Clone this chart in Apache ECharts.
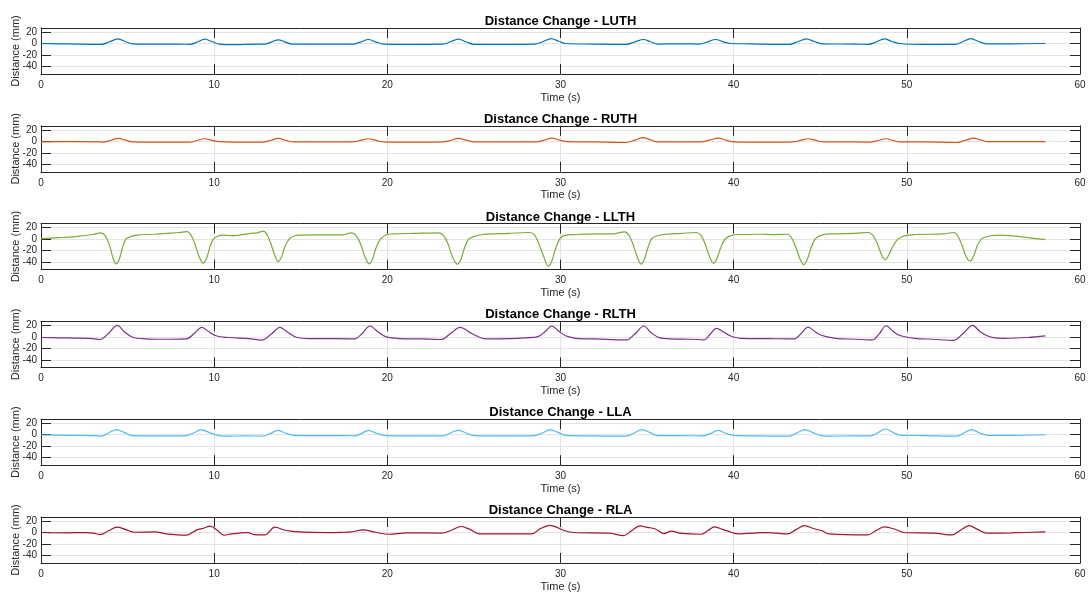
<!DOCTYPE html>
<html><head><meta charset="utf-8">
<script src="https://cdn.jsdelivr.net/npm/echarts@6/dist/echarts.min.js"></script>
<style>html,body{margin:0;padding:0;background:#fff}#c{width:1088px;height:592px}</style>
</head><body><div id="c"></div>
<script>
// ---- data ----
const names = ['LUTH','RUTH','LLTH','RLTH','LLA','RLA'];
const colors = ['#0072BD','#D95319','#77AC30','#7E2F8E','#4DBEEE','#A2142F'];
const timeTicks = [0,10,20,30,40,50,60];
const yTicks = [20,0,-20,-40];

const LUTH = [[0,0],[1,-0.5],[2,-1],[3,-1.5],[3.5,-1.5],[3.95,3],[4.45,8],[4.9,3],[5.3,-0.5],[6.5,-1],[8,-1],[8.6,-1.5],[9.05,3],[9.45,7.5],[9.9,3],[10.3,-1],[11,-2],[12.5,-1],[12.9,-1],[13.3,2.5],[13.7,6.5],[14.1,2.5],[14.5,-1],[16,-1],[18,-1],[18.45,2.5],[18.9,7],[19.35,2.5],[19.8,-1],[21,-1.5],[23.2,-1],[23.65,3],[24.1,7.5],[24.55,3],[25,-1.5],[27,-1.5],[28.5,-1],[29,3.5],[29.45,8.5],[29.9,4],[30.3,0],[32,-1],[33.8,-1.5],[34.3,3],[34.8,7],[35.2,3],[35.6,-1],[37,-0.5],[38,-1],[38.5,3],[38.95,7],[39.4,3],[39.8,0],[41,-0.5],[43.2,-1.5],[43.7,3],[44.2,8],[44.65,3.5],[45.1,-0.5],[47,-1],[47.8,-1.5],[48.25,3],[48.7,8],[49.15,3.5],[49.6,0],[51,-1.5],[52.8,-1.5],[53.25,3.5],[53.7,8.5],[54.15,3.5],[54.6,-0.5],[56,-0.5],[58,0]];

const RUTH = [[0,-1],[2,-0.5],[3.4,-1],[3.6,-1.5],[4.0,1.5],[4.45,5],[4.9,2],[5.3,-1],[7,-1.5],[8.6,-1.5],[9.0,1.5],[9.45,4.5],[9.9,1.5],[10.3,-0.5],[12,-1.5],[12.8,-1.5],[13.25,1.5],[13.7,5],[14.15,1.5],[14.6,-1],[16,-1],[18,-1],[18.45,1.5],[18.9,4.5],[19.35,1.5],[19.8,-1],[21,-1.5],[23.2,-1],[23.65,1.5],[24.1,5],[24.55,2],[25,-1],[27,-1],[28.6,-1],[29.05,2],[29.5,5.5],[29.95,2],[30.4,-0.5],[32,-1],[33.8,-2],[34.3,2],[34.75,6.5],[35.2,2.5],[35.6,-1],[37,-1],[38.1,-1],[38.6,2],[39.1,5.5],[39.55,2],[40,-1],[42,-1.5],[43.4,-1],[43.85,1.5],[44.3,4.5],[44.75,1.5],[45.2,-1],[47,-1],[47.9,-1.5],[48.35,1.5],[48.8,4.5],[49.2,1.5],[49.6,-1],[51,-1],[52.9,-2],[53.4,2],[53.85,5.5],[54.3,2],[54.7,-0.5],[56,-0.5],[58,-0.5]];

const LLTH = [[0,1],[1,2.5],[2,4.5],[3,8],[3.45,11],[3.7,6],[3.95,-10],[4.15,-32],[4.33,-43],[4.52,-35],[4.7,-15],[4.9,0],[5.15,4],[5.5,7],[6.5,8.5],[7.3,10],[8,11.5],[8.4,13],[8.6,10],[8.85,-5],[9.1,-28],[9.37,-42],[9.57,-33],[9.75,-14],[9.95,0],[10.2,5],[10.45,7],[11.1,6],[12.1,10],[12.5,11],[12.85,14],[13.05,8],[13.25,-6],[13.5,-28],[13.7,-39],[13.9,-30],[14.1,-12],[14.35,1],[14.6,5],[14.95,7],[15.9,7.5],[17.4,7.5],[17.95,11],[18.2,6],[18.45,-8],[18.7,-30],[18.95,-43],[19.15,-34],[19.35,-15],[19.6,0],[19.95,7.5],[20.35,9],[21.5,10],[23.0,11],[23.25,6],[23.5,-8],[23.75,-30],[24.05,-43.5],[24.25,-35],[24.45,-16],[24.7,0],[25.0,4.5],[25.5,8],[27,10],[28.2,11.5],[28.45,9],[28.7,-4],[29.0,-28],[29.3,-47],[29.5,-38],[29.7,-18],[29.95,0],[30.2,6],[30.9,8],[32,9],[33,9],[33.7,12.5],[33.95,7],[34.15,-6],[34.4,-28],[34.65,-43.5],[34.85,-34],[35.05,-15],[35.25,0],[35.5,5],[35.95,8],[37,10],[37.85,11.5],[38.1,7],[38.35,-8],[38.6,-30],[38.85,-42],[39.05,-33],[39.25,-15],[39.5,0],[39.8,5.7],[40.2,8],[41.5,8.5],[42.3,8],[43.1,8.5],[43.35,2],[43.6,-15],[43.85,-36],[44.05,-44.5],[44.25,-35],[44.45,-17],[44.7,0],[45.0,6],[45.5,9],[47,10],[47.8,11.5],[48.05,6],[48.3,-8],[48.55,-28],[48.75,-35.5],[48.95,-28],[49.2,-12],[49.5,0],[49.9,6],[50.5,8],[52.1,9],[52.7,11.5],[52.95,5],[53.2,-12],[53.45,-32],[53.65,-38],[53.85,-30],[54.05,-13],[54.3,0],[54.7,5],[55.4,7],[56.1,5.7],[57.1,2.3],[58,-1]];

const RLTH = [[0,-1],[1,-1.5],[2,-2],[3,-3],[3.4,-4.5],[3.9,6],[4.4,20],[4.85,8],[5.3,-0.5],[6.0,-3.3],[7,-4],[8.4,-3.3],[8.85,6],[9.28,16.7],[9.7,9],[10.1,2],[10.8,-1],[12,-3],[12.75,-5.5],[13.3,5],[13.8,16.7],[14.25,8],[14.75,-0.5],[15.5,-2.8],[17,-3],[18.1,-3.3],[18.55,6],[19.0,19],[19.45,9],[19.9,0.5],[20.7,-2.8],[22,-3.5],[23.1,-4.5],[23.65,6],[24.2,16.7],[24.9,5.5],[25.7,-3.3],[27,-3],[28.0,-1.5],[28.7,0.5],[29.1,9],[29.5,19],[29.9,10],[30.3,2],[30.9,-2.4],[32,-3.5],[33.8,-5.3],[34.3,5],[34.8,19],[35.25,7],[35.7,-1.2],[36.4,-3.5],[37.5,-4],[38.3,-5],[38.65,5],[39.0,15],[39.4,9],[39.76,2.4],[40.4,-2.4],[42,-3],[43.5,-3.5],[43.9,6],[44.3,17],[44.7,9],[45.1,2.4],[45.9,-2.4],[47,-4],[48.0,-5.3],[48.4,5],[48.8,19.4],[49.2,10],[49.6,2.4],[50.45,-2.4],[51.5,-4],[52.7,-6],[53.25,6],[53.8,20],[54.2,10],[54.6,2.4],[55,-1.2],[55.6,-2.4],[57,-1],[58,1.8]];

const LLA = [[0,-0.5],[1.5,-1],[3.0,-1.5],[3.5,-2.5],[3.95,4],[4.37,9],[4.8,4],[5.3,-1.5],[7,-2],[8.3,-2],[8.8,3],[9.26,9],[9.7,4],[10.2,-1],[10.8,-2.5],[11.8,-2],[12.8,-2.5],[13.25,2],[13.67,7.5],[14.1,3],[14.6,-1],[16,-1.5],[17.5,-1.5],[18.1,-2],[18.5,2],[18.9,7.5],[19.35,3],[19.8,-1],[21,-2],[23.2,-2],[23.65,3],[24.1,8],[24.55,3],[25.0,-1.5],[27,-2],[28.5,-1.5],[28.95,3],[29.4,9],[29.85,4],[30.3,-1],[32,-2],[33.8,-2.5],[34.25,3],[34.7,9],[35.15,4],[35.6,-1.5],[37,-1.5],[38.2,-2],[38.65,2],[39.1,7.5],[39.5,3],[40,-1],[41.5,-2],[43.2,-2.5],[43.65,3],[44.1,9],[44.55,4],[45,-1],[45.6,-2.5],[47,-2],[47.9,-2],[48.3,3],[48.75,10],[49.2,4],[49.7,-1],[51,-1.5],[52.9,-2.5],[53.3,3],[53.75,9],[54.2,3],[54.7,-1],[56,-1],[58,0]];

const RLA = [[0,0],[1.6,-0.5],[2.6,0],[3.0,-1],[3.4,-3.5],[3.9,3],[4.4,9.3],[4.9,5],[5.4,0.5],[6.6,1],[7.2,-2.3],[8.4,-4.6],[9.0,4.6],[9.4,7.5],[9.76,11],[10.16,4.6],[10.56,-4.6],[11.0,-2.5],[11.55,-0.5],[11.95,0],[12.3,-3.5],[12.95,-4],[13.5,9.3],[14.1,4],[14.9,1],[16.7,0],[17.5,0.5],[17.9,1],[18.6,4.6],[19.3,0.5],[20.1,-3],[21.1,-0.5],[23.1,-1],[23.7,4],[24.25,10.5],[24.8,5],[25.3,-2.3],[26.9,-2.3],[28.35,-2.3],[28.8,6],[29.4,12.5],[30.2,3.6],[30.8,0],[32.8,-1.2],[33.65,-5.4],[34.1,3],[34.6,11.4],[35.0,9],[35.45,6.6],[35.97,-1.8],[36.4,2.4],[36.9,-1.2],[38.1,-3],[38.5,3],[38.9,10],[39.4,5],[39.9,0],[40.3,-2.4],[41.7,0],[42.5,-1.2],[43.1,-2.4],[43.6,5],[44.1,12],[44.6,7],[45.1,3],[45.5,-2.4],[47.75,-4.2],[48.2,3],[48.7,10],[49.4,4.8],[49.8,0],[51.6,-1.2],[52.6,-4.2],[53.1,4],[53.6,12],[54.1,5],[54.6,-1.2],[56,-0.6],[58,1.2]];

const seriesData = [LUTH, RUTH, LLTH, RLTH, LLA, RLA];

// ---- layout / styles ----
const FONT = "'Liberation Sans', Arial, Helvetica, sans-serif";
const INK = '#262626';
const GRIDC = '#e3e3e3';
const TOP0 = 28, STEP = 97.8, H = 46, LEFT = 41, RIGHT = 8;
const YMIN = -53, YMAX = 27;

const grids = [], xAxes = [], yAxes = [], titles = [], series = [];
for (let i = 0; i < 6; i++) {
  const top = TOP0 + STEP * i;
  grids.push({left: LEFT, right: RIGHT, top: top, height: H, containLabel: false, outerBoundsMode: 'none'});
  titles.push({
    text: 'Distance Change - ' + names[i],
    left: 560.5, top: top - 13, textAlign: 'center', padding: 0,
    textStyle: {fontFamily: FONT, fontSize: 13, fontWeight: 'bold', color: '#000'}
  });
  const baseX = {
    type: 'value', gridIndex: i, min: 0, max: 60, interval: 10,
    axisLine: {show: true, onZero: false, lineStyle: {color: INK, width: 1}},
    axisTick: {show: true, inside: true, length: 10, lineStyle: {color: INK, width: 1}},
  };
  xAxes.push(Object.assign({}, baseX, {
    position: 'bottom',
    name: 'Time (s)', nameLocation: 'middle', nameGap: 18, nameMoveOverlap: false,
    nameTextStyle: {fontFamily: FONT, fontSize: 11, color: INK},
    axisLabel: {show: true, margin: 6, fontFamily: FONT, fontSize: 10, color: INK},
    splitLine: {show: true, lineStyle: {color: GRIDC, width: 1}}
  }));
  xAxes.push(Object.assign({}, baseX, {
    position: 'top', axisLabel: {show: false}, splitLine: {show: false}
  }));
  const baseY = {
    type: 'value', gridIndex: i, min: YMIN, max: YMAX,
    axisLine: {show: true, onZero: false, lineStyle: {color: INK, width: 1}},
    axisTick: {show: true, inside: true, length: 10, customValues: yTicks, lineStyle: {color: INK, width: 1}},
  };
  yAxes.push(Object.assign({}, baseY, {
    position: 'left',
    name: 'Distance (mm)', nameLocation: 'middle', nameGap: 20, nameRotate: 90, nameMoveOverlap: false,
    nameTextStyle: {fontFamily: FONT, fontSize: 11, color: INK},
    axisLabel: {show: true, margin: 4, customValues: yTicks, fontFamily: FONT, fontSize: 10, color: INK},
    splitLine: {show: true, lineStyle: {color: GRIDC, width: 1}}
  }));
  yAxes.push(Object.assign({}, baseY, {
    position: 'right', axisLabel: {show: false}, splitLine: {show: false}
  }));
  series.push({
    type: 'line', xAxisIndex: 2 * i, yAxisIndex: 2 * i,
    data: seriesData[i], showSymbol: false, smooth: 0.35,
    lineStyle: {color: colors[i], width: 1.2}, itemStyle: {color: colors[i]},
    clip: true, z: 3
  });
}

const chart = echarts.init(document.getElementById('c'), null, {renderer: 'canvas'});
chart.setOption({
  animation: false,
  backgroundColor: '#fff',
  title: titles, grid: grids, xAxis: xAxes, yAxis: yAxes, series: series
});
</script></body></html>
